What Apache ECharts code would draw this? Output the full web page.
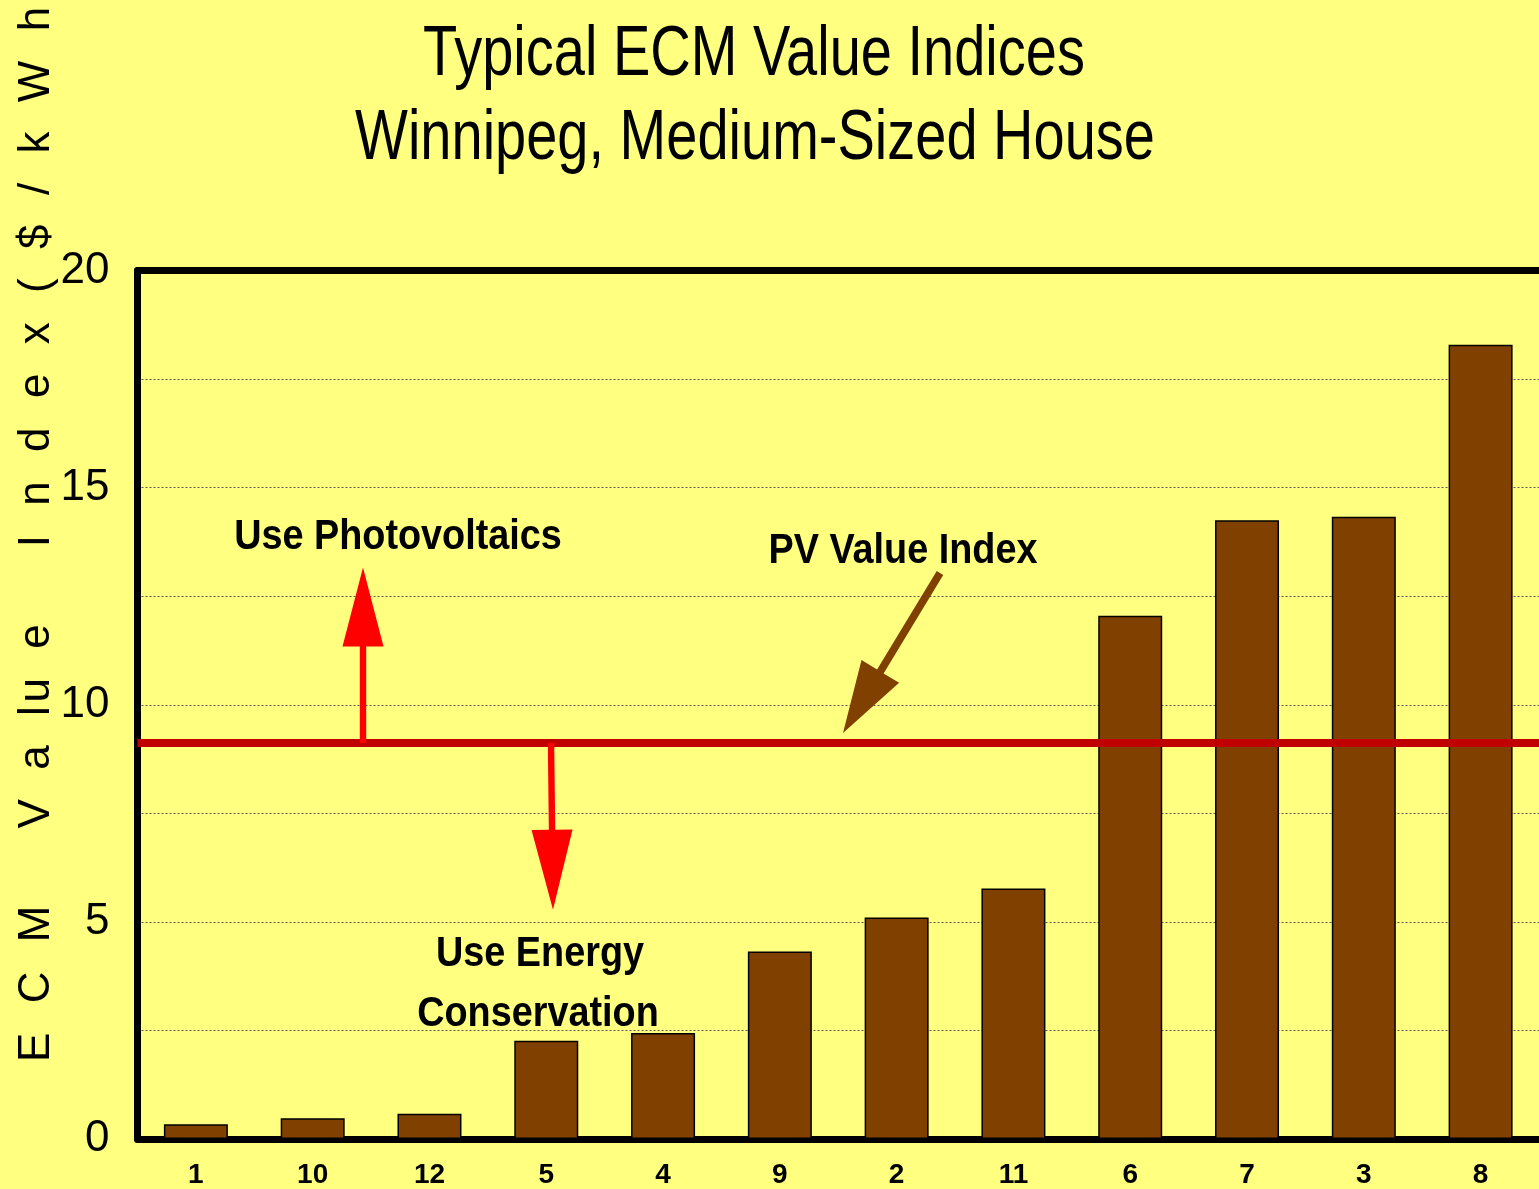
<!DOCTYPE html>
<html>
<head>
<meta charset="utf-8">
<script src="https://cdn.jsdelivr.net/npm/echarts@6/dist/echarts.min.js"></script>
<style>
html,body{margin:0;padding:0;background:#FFFF80;}
#chart{width:1539px;height:1189px;}
</style>
</head>
<body>
<div id="chart"></div>
<script>
// ---- data ----
const categories = ['1', '10', '12', '5', '4', '9', '2', '11', '6', '7', '3', '8'];
const values = [0.34, 0.48, 0.58, 2.26, 2.44, 4.32, 5.10, 5.77, 12.05, 14.25, 14.33, 18.29];
const pvValueIndex = 9.12;
const yMin = 0, yMax = 20, yInterval = 2.5, yLabelEvery = 5;
const titleLines = ['Typical ECM Value Indices', 'Winnipeg, Medium-Sized House'];
const G = '\u2004\u2004';          // gap between letters
const W = '\u2003\u2002\u2005';    // gap between words
const yAxisName = 'E' + G + 'C' + G + 'M' + W + 'V' + G + 'a' + G + 'l\u200Au' + G + 'e' + W +
  'I' + G + 'n' + G + 'd' + G + 'e' + G + 'x' + G + '(' + G + '$' + G + '/' + G + 'k' + G + 'W' + G + 'h' + G + ')';
const annUp = 'Use Photovoltaics';
const annPV = 'PV Value Index';
const annDown = ['Use Energy', 'Conservation'];

function fontAvailable(name) {
  const c = document.createElement('canvas').getContext('2d');
  const s = 'abcdefghijklmnopWMi0123456789';
  c.font = '40px monospace';
  const a = c.measureText(s).width;
  c.font = '40px "' + name + '", monospace';
  const b = c.measureText(s).width;
  return Math.abs(a - b) > 0.5;
}
const NARROW = fontAvailable('Liberation Sans Narrow');

const chart = echarts.init(document.getElementById('chart'), null, {renderer: 'canvas'});

const option = {
  animation: false,
  backgroundColor: '#FFFF80',
  grid: {left: 137.5, top: 270.5, width: 1408, bottom: 50, containLabel: false},
  xAxis: [{
    type: 'category',
    data: categories,
    axisLine: {show: true, lineStyle: {color: '#000', width: 7}},
    axisTick: {show: false},
    axisLabel: {
      margin: 22,
      color: '#000',
      fontWeight: 'bold',
      fontFamily: NARROW ? 'Liberation Sans Narrow' : 'Liberation Sans',
      fontSize: NARROW ? 32 : 28
    },
    splitLine: {show: false}
  }, {
    type: 'category',
    position: 'top',
    data: categories,
    axisLine: {show: true, lineStyle: {color: '#000', width: 7}},
    axisTick: {show: false},
    axisLabel: {show: false}
  }],
  yAxis: {
    type: 'value',
    min: yMin, max: yMax, interval: yInterval,
    axisLine: {show: true, lineStyle: {color: '#000', width: 7}},
    axisTick: {show: false},
    axisLabel: {
      margin: 28,
      color: '#000',
      fontFamily: 'Liberation Sans',
      fontSize: 44,
      formatter: v => (Math.abs(v % yLabelEvery) < 1e-9 ? String(v) : '')
    },
    splitLine: {show: true, lineStyle: {color: '#5a5a5a', width: 1, type: [2, 2]}}
  },
  series: [{
    type: 'bar',
    data: values,
    barWidth: 64,
    itemStyle: {color: '#804000', borderColor: '#000', borderWidth: 1.5},
    markLine: {
      silent: true,
      symbol: ['none', 'none'],
      label: {show: false},
      lineStyle: {color: '#C00000', width: 8, type: 'solid'},
      data: [{yAxis: pvValueIndex}]
    },
    z: 2
  }]
};
chart.setOption(option);

function yPx(v) { return chart.convertToPixel({yAxisIndex: 0}, v); }

function arrowPoints(tail, tip, headLen, headHalf, shaftHalf) {
  const dx = tip[0] - tail[0], dy = tip[1] - tail[1];
  const L = Math.hypot(dx, dy);
  const ux = dx / L, uy = dy / L;
  const nx = -uy, ny = ux;
  const bx = tip[0] - ux * headLen, by = tip[1] - uy * headLen;
  return [
    [tail[0] + nx * shaftHalf, tail[1] + ny * shaftHalf],
    [bx + nx * shaftHalf, by + ny * shaftHalf],
    [bx + nx * headHalf, by + ny * headHalf],
    [tip[0], tip[1]],
    [bx - nx * headHalf, by - ny * headHalf],
    [bx - nx * shaftHalf, by - ny * shaftHalf],
    [tail[0] - nx * shaftHalf, tail[1] - ny * shaftHalf]
  ];
}

const pvY = yPx(pvValueIndex);
const upArrow = arrowPoints([363, pvY], [363, yPx(13.16)], 79, 20.5, 3.2);
const downArrow = arrowPoints([551, pvY], [553, yPx(5.28)], 80, 20.5, 3.2);
const pvArrow = arrowPoints([940, 573], [843, 733], 72, 22, 3.8);

const annFont = {fontFamily: 'Liberation Sans', fontSize: 42, fontWeight: 'bold', fill: '#000', align: 'center', verticalAlign: 'middle'};
function annText(str, x, y) {
  return {type: 'text', x: x, y: y, scaleX: 0.9, z: 100, style: Object.assign({text: str}, annFont)};
}

chart.setOption({
  graphic: [
    {type: 'text', x: 754, y: 56, scaleX: 0.8, z: 100,
     style: {text: titleLines[0], fontFamily: 'Liberation Sans', fontSize: 70, fill: '#000', align: 'center', verticalAlign: 'middle'}},
    {type: 'text', x: 755, y: 140, scaleX: 0.8, z: 100,
     style: {text: titleLines[1], fontFamily: 'Liberation Sans', fontSize: 70, fill: '#000', align: 'center', verticalAlign: 'middle'}},
    {type: 'text', x: 37, y: 1062, rotation: Math.PI / 2, z: 100,
     style: {text: yAxisName, fontFamily: 'Liberation Sans', fontSize: 44, fill: '#000', align: 'left', verticalAlign: 'middle'}},
    {type: 'polygon', z: 50, shape: {points: upArrow}, style: {fill: '#FF0000'}},
    {type: 'polygon', z: 50, shape: {points: downArrow}, style: {fill: '#FF0000'}},
    {type: 'polygon', z: 50, shape: {points: pvArrow}, style: {fill: '#804000'}},
    annText(annUp, 398, 537),
    annText(annPV, 903, 551),
    annText(annDown[0], 540, 954),
    annText(annDown[1], 538, 1014)
  ]
});
</script>
</body>
</html>
